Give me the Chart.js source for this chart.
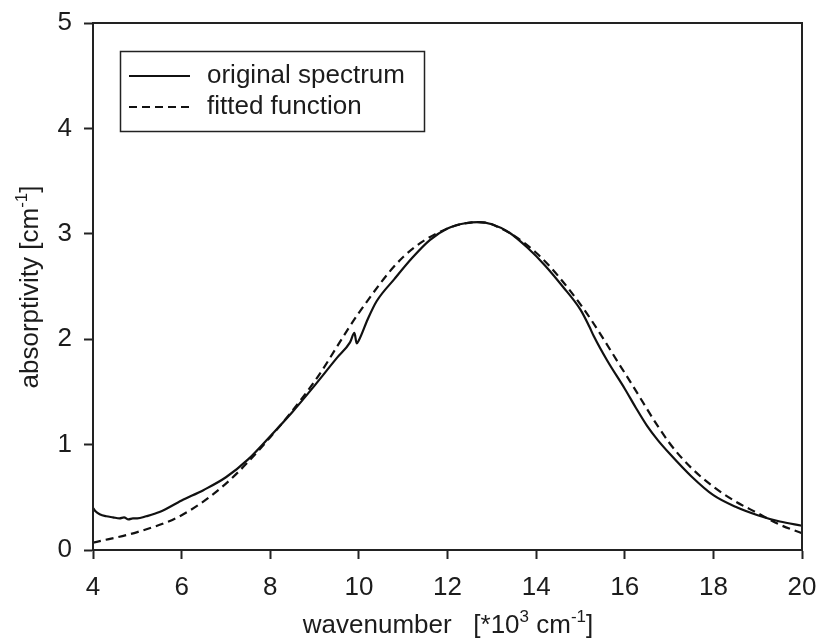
<!DOCTYPE html>
<html>
<head>
<meta charset="utf-8">
<script src="https://cdn.jsdelivr.net/npm/chart.js@4"></script>
<style>
  html, body { margin: 0; padding: 0; background: #fff; }
  #wrap { width: 820px; height: 643px; }
</style>
</head>
<body>
<div id="wrap"><canvas id="grafica" width="820" height="643"></canvas></div>
<script>
// datos (x en 10^3 cm^-1, y en cm^-1)
var espectro_x = [4.0, 4.05, 4.15, 4.3, 4.45, 4.6, 4.7, 4.8, 4.9, 5.0, 5.2, 5.5, 6.0, 6.5, 7.0, 7.5, 8.0, 8.5, 9.0, 9.5, 9.8, 9.9, 9.95, 10.0, 10.2, 10.4, 10.8, 11.2, 11.6, 12.0, 12.4, 12.7, 13.0, 13.4, 13.8, 14.2, 14.6, 15.0, 15.2, 15.3, 15.6, 16.0, 16.25, 16.5, 16.75, 17.0, 17.5, 18.0, 18.5, 19.0, 19.5, 20.0]
var espectro_y = [0.40, 0.37, 0.34, 0.32, 0.31, 0.30, 0.31, 0.29, 0.30, 0.30, 0.32, 0.36, 0.47, 0.57, 0.69, 0.86, 1.08, 1.31, 1.56, 1.82, 1.97, 2.06, 1.96, 1.99, 2.19, 2.36, 2.57, 2.77, 2.94, 3.05, 3.10, 3.11, 3.09, 3.01, 2.87, 2.70, 2.50, 2.28, 2.12, 2.03, 1.80, 1.53, 1.35, 1.18, 1.04, 0.92, 0.70, 0.52, 0.41, 0.33, 0.27, 0.23]
var ajuste_x = [4, 5, 6, 7, 8, 9, 10, 11, 12, 12.7, 13, 14, 15, 16, 17, 17.5, 18, 18.5, 19, 19.5, 20]
var ajuste_y = [0.07, 0.17, 0.33, 0.63, 1.07, 1.60, 2.25, 2.78, 3.05, 3.11, 3.09, 2.82, 2.33, 1.68, 1.02, 0.78, 0.60, 0.46, 0.35, 0.24, 0.16]
var ticks_x = [4, 6, 8, 10, 12, 14, 16, 18, 20]
var ticks_y = [0, 1, 2, 3, 4, 5]
var etiquetas_leyenda = ["original spectrum", "fitted function"]

var color_texto = "#1c1c1c"
var fuente = "'Liberation Sans', Arial, sans-serif"

function puntos(xs, ys) {
    return xs.map(function (x, i) { return { x: x, y: ys[i] } })
}

// escribe texto con partes en superindice
function texto_sup(ctx, partes, cx, cy, rot) {
    var normal = "26px " + fuente, chico = "17px " + fuente
    var total = 0
    partes.forEach(function (p) {
        ctx.font = p.sup ? chico : normal
        total += ctx.measureText(p.t).width
    })
    ctx.save()
    ctx.translate(cx, cy)
    ctx.rotate(rot)
    ctx.fillStyle = color_texto
    ctx.textBaseline = "middle"
    ctx.textAlign = "left"
    var x = -total / 2
    partes.forEach(function (p) {
        ctx.font = p.sup ? chico : normal
        ctx.fillText(p.t, x, p.sup ? -9 : 0)
        x += ctx.measureText(p.t).width
    })
    ctx.restore()
}

var extras = {
    id: "extras",
    afterDraw: function (chart) {
        var ctx = chart.ctx, a = chart.chartArea
        ctx.save()
        // marco
        ctx.strokeStyle = "#222"
        ctx.lineWidth = 2
        ctx.strokeRect(a.left, a.top, a.right - a.left, a.bottom - a.top)
        // leyenda
        ctx.lineWidth = 1.5
        ctx.strokeRect(120.5, 51.5, 304, 80)
        var sets = chart.data.datasets
        var filas = [76, 107]
        filas.forEach(function (y, i) {
            ctx.beginPath()
            ctx.lineWidth = 2.2
            ctx.strokeStyle = sets[i].borderColor
            ctx.setLineDash(sets[i].borderDash || [])
            ctx.moveTo(129, y)
            ctx.lineTo(190, y)
            ctx.stroke()
            ctx.setLineDash([])
            ctx.fillStyle = color_texto
            ctx.font = "26px " + fuente
            ctx.textBaseline = "middle"
            ctx.fillText(etiquetas_leyenda[i], 207, y)
        })
        ctx.restore()
        // titulos de ejes
        texto_sup(ctx, [{ t: "wavenumber   [*10" }, { t: "3", sup: true }, { t: " cm" }, { t: "-1", sup: true }, { t: "]" }], 448, 626, 0)
        texto_sup(ctx, [{ t: "absorptivity [cm" }, { t: "-1", sup: true }, { t: "]" }], 31, 287, -Math.PI / 2)
    }
}

var carga = {
    type: "line",
    data: {
        datasets: [{
            label: etiquetas_leyenda[0],
            data: puntos(espectro_x, espectro_y),
            borderColor: "#111",
            borderWidth: 2.2,
            pointRadius: 0,
            cubicInterpolationMode: "monotone"
        }, {
            label: etiquetas_leyenda[1],
            data: puntos(ajuste_x, ajuste_y),
            borderColor: "#111",
            borderWidth: 2.2,
            borderDash: [8, 5],
            pointRadius: 0,
            cubicInterpolationMode: "monotone"
        }]
    },
    options: {
        responsive: false,
        animation: false,
        layout: { padding: { left: 0, right: 18, top: 23, bottom: 0 } },
        plugins: { legend: { display: false }, tooltip: { enabled: false } },
        scales: {
            x: {
                type: "linear", min: 4, max: 20,
                afterFit: function (s) { s.height = 93; s.paddingLeft = 0; s.paddingRight = 0 },
                afterBuildTicks: function (s) { s.ticks = ticks_x.map(function (v) { return { value: v } }) },
                grid: { drawOnChartArea: false, tickLength: 9, tickWidth: 2, color: "#222" },
                border: { color: "#222", width: 2 },
                ticks: { color: color_texto, font: { size: 26, family: fuente }, padding: 13, maxRotation: 0 }
            },
            y: {
                type: "linear", min: 0, max: 5,
                afterFit: function (s) { s.width = 93; s.paddingTop = 0; s.paddingBottom = 0 },
                afterBuildTicks: function (s) { s.ticks = ticks_y.map(function (v) { return { value: v } }) },
                grid: { drawOnChartArea: false, tickLength: 9, tickWidth: 2, color: "#222" },
                border: { color: "#222", width: 2 },
                ticks: { color: color_texto, font: { size: 26, family: fuente }, padding: 12 }
            }
        }
    },
    plugins: [extras]
}

var grafica = new Chart(document.getElementById("grafica"), carga)
</script>
</body>
</html>
